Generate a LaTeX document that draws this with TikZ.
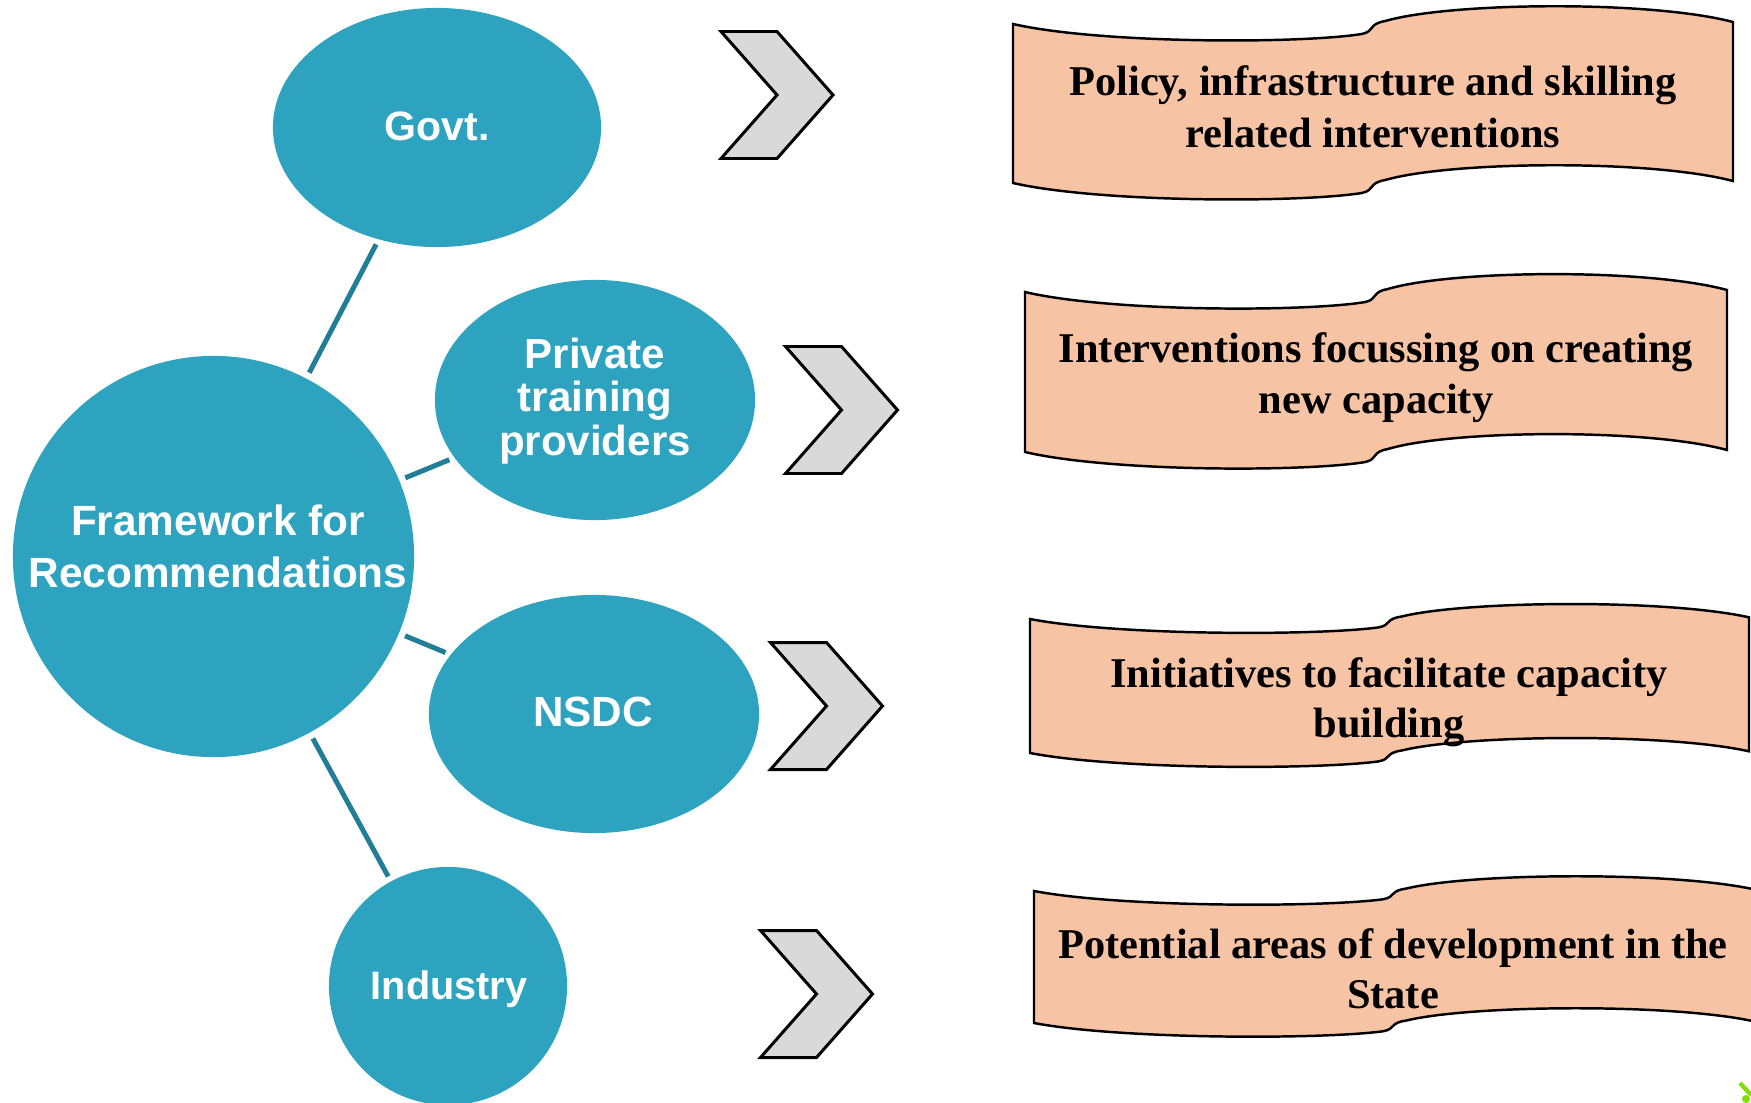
\documentclass[tikz,border=0pt]{standalone}
\usepackage{fontspec}
\setmainfont{Liberation Serif}
\newfontfamily\labsans{Liberation Sans}
\usetikzlibrary{shapes.geometric}
\definecolor{bub}{RGB}{46,163,192}
\definecolor{linkc}{RGB}{33,126,150}
\definecolor{peach}{RGB}{247,195,165}
\definecolor{chevgray}{RGB}{217,217,217}
\definecolor{limec}{RGB}{128,224,0}
\tikzset{
 bubble/.style={fill=bub, draw=none, inner sep=0pt, ellipse},
 link/.style={draw=linkc, line width=1.42pt, shorten >=0.05cm, shorten <=0.06cm},
 chevst/.style={fill=chevgray, draw=black, line width=0.85pt, line join=miter},
 bannerst/.style={fill=peach, draw=black, line width=0.7pt},
 stxt/.style={text=white, font=\labsans\bfseries\fontsize{#1}{13}\selectfont, anchor=base, inner sep=0pt},
 stxt/.default={11.67},
 btxt/.style={text=black, font=\bfseries\fontsize{12.06}{14}\selectfont, anchor=base, inner sep=0pt},
 chev/.pic={\path[chevst] (-56,-63.5) -- (0,-63.5) -- (56,0) -- (0,63.5) -- (-56,63.5) -- (0,0) -- cycle;}
}
% wave banner: #1 left x, #2 top-left y, #3 width, #4 height
\newcommand\wavebanner[4]{%
 \pgfmathsetmacro\wbS{#4/160}%
 \path[bannerst] (#1,#2)
  .. controls ({#1+0.121*#3},{#2+20*\wbS}) and ({#1+0.399*#3},{#2+20*\wbS}) .. ({#1+0.485*#3},{#2+10*\wbS})
  .. controls ({#1+0.503*#3},{#2+7*\wbS}) and ({#1+0.493*#3},{#2+0*\wbS}) .. ({#1+0.517*#3},{#2-3*\wbS})
  .. controls ({#1+0.607*#3},{#2-22*\wbS}) and ({#1+0.885*#3},{#2-24*\wbS}) .. ({#1+#3},{#2-2*\wbS})
  -- ({#1+#3},{#2+#4-2*\wbS})
  .. controls ({#1+0.885*#3},{#2+#4-24*\wbS}) and ({#1+0.607*#3},{#2+#4-22*\wbS}) .. ({#1+0.517*#3},{#2+#4-3*\wbS})
  .. controls ({#1+0.493*#3},{#2+#4+0*\wbS}) and ({#1+0.503*#3},{#2+#4+7*\wbS}) .. ({#1+0.485*#3},{#2+#4+10*\wbS})
  .. controls ({#1+0.399*#3},{#2+#4+20*\wbS}) and ({#1+0.121*#3},{#2+#4+20*\wbS}) .. (#1,{#2+#4})
  -- cycle;}
\begin{document}
\begin{tikzpicture}[x=0.01cm,y=-0.01cm]
\useasboundingbox (0,0) rectangle (1751,1103);
\clip (0,0) rectangle (1751,1103);
\fill[white] (0,0) rectangle (1751,1103);
% bubbles
\node[bubble, minimum width=4.01cm, minimum height=4.01cm] (main) at (213.5,556.5) {};
\node[bubble, minimum width=3.28cm, minimum height=2.39cm] (govt) at (437,127.5) {};
\node[bubble, minimum width=3.20cm, minimum height=2.40cm] (ptp) at (595,400) {};
\node[bubble, minimum width=3.30cm, minimum height=2.38cm] (nsdc) at (594,714) {};
\node[bubble, minimum width=2.38cm, minimum height=2.38cm] (ind) at (448,986) {};
% connectors
\draw[link] (main) -- (govt);
\draw[link] (main) -- (ptp);
\draw[link] (main) -- (nsdc);
\draw[link] (main) -- (ind);
% bubble texts
\node[stxt=12.03] (main-a) at (218,535) {Framework for};
\node[stxt=12.03] (main-b) at (218,587) {Recommendations};
\node[stxt=11.67] (govt-t) at (437,140) {Govt.};
\node[stxt=11.95] (ptp-a) at (595,368) {Private};
\node[stxt=11.95] (ptp-b) at (595,411) {training};
\node[stxt=11.95] (ptp-c) at (595,455) {providers};
\node[stxt=12.0] (nsdc-t) at (593,726) {NSDC};
\node[stxt=11.27] (ind-t) at (449,999) {Industry};
% chevrons
\pic at (777,95) {chev};
\pic at (841.5,410) {chev};
\pic at (826.5,706) {chev};
\pic at (816.5,994) {chev};
% banners
\wavebanner{1013}{24}{720}{159}
\wavebanner{1025}{292}{702}{160}
\wavebanner{1030}{619}{719}{134}
\wavebanner{1034}{891}{720}{132}
\node[btxt] (b1a) at (1373,95) {Policy, infrastructure and skilling};
\node[btxt] (b1b) at (1373,147) {related interventions};
\node[btxt] (b2a) at (1376,362) {Interventions focussing on creating};
\node[btxt] (b2b) at (1376,413) {new capacity};
\node[btxt] (b3a) at (1389,687) {Initiatives to facilitate capacity};
\node[btxt] (b3b) at (1389,737) {building};
\node[btxt] (b4a) at (1393,958) {Potential areas of development in the};
\node[btxt] (b4b) at (1393,1008) {State};
% corner mark
\draw[limec, line width=1.2pt] (1740,1083) -- (1751,1095);
\fill[limec] (1746,1099) circle (4);
\end{tikzpicture}
\end{document}
